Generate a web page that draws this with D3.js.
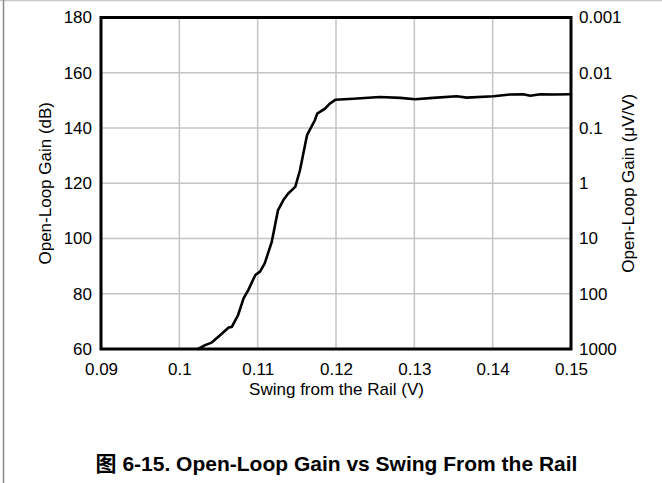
<!DOCTYPE html>
<html>
<head>
<meta charset="utf-8">
<script src="https://cdn.jsdelivr.net/npm/d3@7"></script>
<style>
  html, body { margin: 0; padding: 0; background: #fff; }
  svg { display: block; }
</style>
</head>
<body>
<div id="chart"></div>
<script>
// Data
const swingV = [0.1024, 0.1033, 0.1041, 0.1052, 0.1063, 0.1067, 0.1075, 0.1082, 0.1088, 0.1097,
  0.1103, 0.1109, 0.1118, 0.1126, 0.1133, 0.1139, 0.1148, 0.1154, 0.1163, 0.1173,
  0.1176, 0.1186, 0.1192, 0.1199, 0.1222, 0.1256, 0.1282, 0.1301, 0.1324, 0.1354,
  0.1367, 0.1401, 0.1422, 0.1439, 0.1448, 0.1461, 0.1478, 0.15];
const gainDb = [60, 61.4, 62.3, 65, 67.8, 68, 72.3, 78.3, 81.3, 86.8,
  88, 91, 98.8, 110.3, 114, 116.3, 118.7, 124.7, 137.4, 142.8,
  145.2, 147, 148.8, 150.2, 150.6, 151.2, 150.9, 150.4, 150.9, 151.5,
  151, 151.5, 152.1, 152.2, 151.7, 152.2, 152.1, 152.2];

const xTicks = [0.09, 0.1, 0.11, 0.12, 0.13, 0.14, 0.15];
const yTicks = [60, 80, 100, 120, 140, 160, 180];
const y2Ticks = [1000, 100, 10, 1, 0.1, 0.01, 0.001];

const xLabel = "Swing from the Rail (V)";
const yLabel = "Open-Loop Gain (dB)";
const y2Label = "Open-Loop Gain (\u03bcV/V)";
const caption = "\u56fe 6-15. Open-Loop Gain vs Swing From the Rail";

// Layout
const W = 662, H = 483;
const M = { top: 17.5, right: 91, bottom: 134, left: 101 };
const IW = W - M.left - M.right;
const IH = H - M.top - M.bottom;
const FONT = "'Liberation Sans', Arial, sans-serif";
const FS = 17;

const x = d3.scaleLinear().domain([0.09, 0.15]).range([0, IW]);
const y = d3.scaleLinear().domain([60, 180]).range([IH, 0]);
const y2 = d3.scaleLog().domain([1000, 0.001]).range([IH, 0]);

const svg = d3.select("#chart").append("svg")
  .attr("width", W).attr("height", H);

// outer frame (top and left edges only, as in the reference)
svg.append("line").attr("x1", 0).attr("x2", W).attr("y1", 0.5).attr("y2", 0.5)
  .attr("stroke", "#c8c8c8").attr("stroke-width", 1.5);
svg.append("line").attr("x1", 3.5).attr("x2", 3.5).attr("y1", 0).attr("y2", H)
  .attr("stroke", "#8a8a8a").attr("stroke-width", 1.5);

const g = svg.append("g").attr("transform", `translate(${M.left},${M.top})`);

// grid
g.append("g").selectAll("line").data(xTicks).join("line")
  .attr("x1", d => x(d)).attr("x2", d => x(d))
  .attr("y1", 0).attr("y2", IH)
  .attr("stroke", "#c4c4c4").attr("stroke-width", 1.5);
g.append("g").selectAll("line").data(yTicks).join("line")
  .attr("x1", 0).attr("x2", IW)
  .attr("y1", d => y(d)).attr("y2", d => y(d))
  .attr("stroke", "#c4c4c4").attr("stroke-width", 1.5);

// axes (labels only, frame drawn separately)
const xAxis = g.append("g").attr("transform", `translate(0,${IH})`)
  .call(d3.axisBottom(x).tickValues(xTicks).tickSize(0).tickPadding(14).tickFormat(d3.format("~g")));
const yAxis = g.append("g")
  .call(d3.axisLeft(y).tickValues(yTicks).tickSize(0).tickPadding(9));
const y2Axis = g.append("g").attr("transform", `translate(${IW},0)`)
  .call(d3.axisRight(y2).tickValues(y2Ticks).tickSize(0).tickPadding(8).tickFormat(d3.format("~g")));

[xAxis, yAxis, y2Axis].forEach(a => {
  a.select(".domain").remove();
  a.selectAll("text").attr("font-family", FONT).attr("font-size", FS).attr("fill", "#000");
});

// curve
const pts = swingV.map((v, i) => [v, gainDb[i]]);
g.append("path")
  .attr("d", d3.line().x(d => x(d[0])).y(d => y(d[1]))(pts))
  .attr("fill", "none").attr("stroke", "#000").attr("stroke-width", 2.6)
  .attr("stroke-linejoin", "round").attr("stroke-linecap", "round");

// plot frame
g.append("rect").attr("x", 0).attr("y", 0).attr("width", IW).attr("height", IH)
  .attr("fill", "none").attr("stroke", "#000").attr("stroke-width", 3);

// axis titles
svg.append("text")
  .attr("x", M.left + IW / 2 + 0.5).attr("y", 395)
  .attr("text-anchor", "middle").attr("font-family", FONT).attr("font-size", FS)
  .attr("fill", "#000").text(xLabel);
svg.append("text")
  .attr("transform", `translate(51,${M.top + IH / 2}) rotate(-90)`)
  .attr("text-anchor", "middle").attr("font-family", FONT).attr("font-size", FS)
  .attr("fill", "#000").text(yLabel);
svg.append("text")
  .attr("transform", `translate(634,${M.top + IH / 2}) rotate(-90)`)
  .attr("text-anchor", "middle").attr("font-family", FONT).attr("font-size", FS)
  .attr("fill", "#000").text(y2Label);

// caption
svg.append("text")
  .attr("x", 336.5).attr("y", 471)
  .attr("text-anchor", "middle")
  .attr("font-family", "'Liberation Sans', Arial, 'Noto Sans CJK SC', sans-serif")
  .attr("font-weight", "bold").attr("font-size", 21).attr("fill", "#000")
  .text(caption);
</script>
</body>
</html>
